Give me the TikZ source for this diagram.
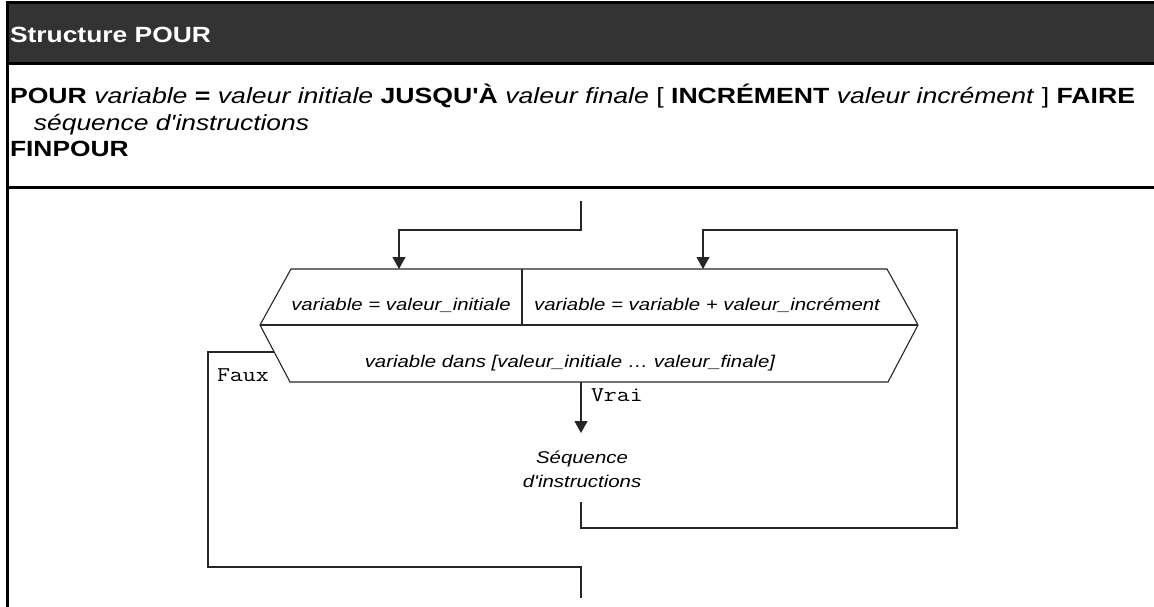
\documentclass[tikz,border=0pt]{standalone}
\usepackage{fontspec}
\setmainfont{Liberation Sans}
\usetikzlibrary{arrows.meta}
\newcommand{\hs}[1]{\scalebox{1.2}[1]{#1}}
\newcommand{\fitw}[2]{\resizebox{#1}{\height}{#2}}
\begin{document}
\begin{tikzpicture}[x=1pt,y=-1pt,
  lbl/.style={inner sep=0pt, outer sep=0pt, anchor=base west},
  ctr/.style={inner sep=0pt, outer sep=0pt, anchor=base},
  big/.style={font=\fontsize{22}{26}\selectfont},
  bigb/.style={font=\fontsize{22}{26}\selectfont\bfseries},
  small/.style={font=\fontsize{17}{20}\selectfont\itshape},
  mono/.style={font=\fontsize{21}{24}\ttfamily},
  flow/.style={line width=1.1pt, draw=black!85},
  arr/.style={flow, -{Triangle[width=13pt,length=12pt]}},
  frame/.style={line width=3pt, draw=black}]
\useasboundingbox (0,0) rectangle (1154,607);
% table
\fill[black!80] (7,3) rectangle (1154,64);
\draw[frame] (5.5,3) -- (1154,3);
\draw[frame] (7,64) -- (1154,64);
\draw[frame] (7,187) -- (1154,187);
\draw[frame] (7,1.5) -- (7,607);
% header and syntax
\node[lbl, bigb, text=white] (title) at (10,43) {\hs{Structure POUR}};
\node[lbl, big] (syn1) at (10,103) {\fitw{1125pt}{\textbf{POUR} \textit{variable} \textbf{=} \textit{valeur initiale} \textbf{JUSQU\textquotesingle À} \textit{valeur finale} [ \textbf{INCRÉMENT} \textit{valeur incrément} ] \textbf{FAIRE}}};
\node[lbl, big] (syn2) at (34,131) {\hs{\textit{séquence d\textquotesingle instructions}}};
\node[lbl, bigb] (syn3) at (10,157) {\hs{FINPOUR}};
% hexagon
\coordinate (h1) at (291,269);
\coordinate (h2) at (887,269);
\coordinate (h3) at (918,325);
\coordinate (h4) at (888,382);
\coordinate (h5) at (290,382);
\coordinate (h6) at (260,325);
\coordinate (hdiv) at (522,269);
\coordinate (hdivb) at (522,325);
\draw[flow] (h1) -- (h2) -- (h3) -- (h4) -- (h5) -- (h6) -- cycle;
\draw[flow] (h6) -- (h3);
\draw[flow] (hdiv) -- (hdivb);
\node[ctr, small] (init) at (401,310) {\hs{variable = valeur\_initiale}};
\node[ctr, small] (incr) at (707,310) {\hs{variable = variable + valeur\_incrément}};
\node[ctr, small] (cond) at (570,367) {\hs{variable dans [valeur\_initiale … valeur\_finale]}};
% sequence
\node[ctr, small] (seq1) at (582,463) {\hs{Séquence}};
\node[ctr, small] (seq2) at (582,487) {\hs{d\textquotesingle instructions}};
\node[lbl, mono] (faux) at (217,381) {\hs{Faux}};
\node[lbl, mono] (vrai) at (591,401) {\hs{Vrai}};
% connectors
\coordinate (in) at (581,201);
\coordinate (inb) at (581,230);
\coordinate (inl) at (399,230);
\coordinate (initT) at (399,269);
\draw[arr] (in) -- (inb) -- (inl) -- (initT);
\coordinate (vtop) at (581,382);
\coordinate (seqT) at (581,433);
\draw[arr] (vtop) -- (seqT);
\coordinate (seqB) at (581,502);
\coordinate (l1) at (581,528);
\coordinate (l2) at (957,528);
\coordinate (l3) at (957,230);
\coordinate (l4) at (703,230);
\coordinate (incrT) at (703,269);
\draw[arr] (seqB) -- (l1) -- (l2) -- (l3) -- (l4) -- (incrT);
\coordinate (f0) at (274,352);
\coordinate (f1) at (208,352);
\coordinate (f2) at (208,567);
\coordinate (f3) at (581,567);
\coordinate (out) at (581,598);
\draw[flow] (f0) -- (f1) -- (f2) -- (f3) -- (out);
\end{tikzpicture}
\end{document}
